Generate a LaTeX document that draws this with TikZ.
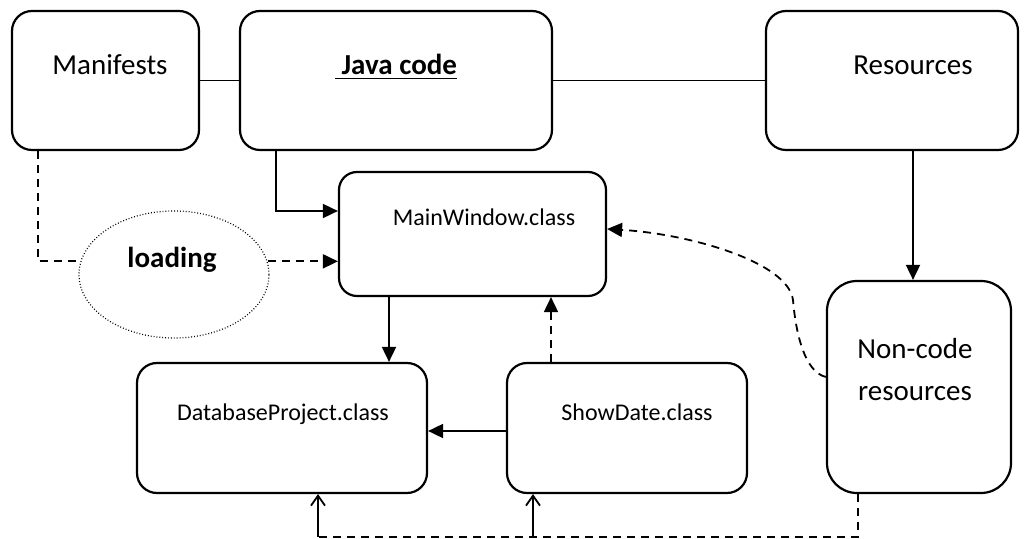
\documentclass[tikz,border=0pt]{standalone}
\usepackage{fontspec}
\setmainfont{Carlito}
\usetikzlibrary{arrows.meta,shapes.geometric}
\begin{document}
\begin{tikzpicture}[x=0.5pt,y=-0.5pt,
 box/.style={draw,line width=1.1pt,rounded corners=10pt,inner sep=0pt},
 conn/.style={line width=0.9pt},
 arr/.style={conn,-{Triangle[length=7.5pt,width=7pt]}},
 barb/.style={conn,-{Straight Barb[length=5pt,width=7pt]}},
 dsh/.style={dash pattern=on 4pt off 3pt},
 big/.style={font=\fontsize{14.5}{17}\selectfont,inner sep=0pt,anchor=base},
 small/.style={font=\fontsize{12}{14}\selectfont,inner sep=0pt,anchor=base}]
\useasboundingbox (0,0) rectangle (1029,539);
% boxes
\node[box,minimum width=93.5pt,minimum height=69.5pt] (man) at (105.5,80.5) {};
\node[box,minimum width=156pt,minimum height=69.5pt] (java) at (396,80.5) {};
\node[box,minimum width=126pt,minimum height=69.5pt] (res) at (892,80.5) {};
\node[box,rounded corners=9pt,minimum width=133.5pt,minimum height=62pt] (mw) at (472.5,234) {};
\node[box,minimum width=145pt,minimum height=65pt] (db) at (282,428) {};
\node[box,minimum width=120pt,minimum height=65pt] (sd) at (627,428) {};
\node[box,rounded corners=15pt,minimum width=92pt,minimum height=106pt] (nc) at (919,387) {};
\node[draw,ellipse,line width=0.6pt,dash pattern=on 0.45pt off 1pt,inner sep=0pt,minimum width=95pt,minimum height=63.5pt] (ld) at (174,274.5) {};
% texts
\node[big] (manT) at (110,75) {Manifests};
\node[big] (javaT) at (396,75) {\underline{\textbf{\ Java code}}};
\node[big] (resT) at (913,75) {Resources};
\node[small] (mwT) at (484,226) {MainWindow.class};
\node[big] (ldT) at (172,268) {\textbf{loading}};
\node[small] (dbT) at (283,421) {DatabaseProject.class};
\node[small] (sdT) at (637,421) {ShowDate.class};
\node[big,align=center,anchor=base,font=\fontsize{14.5}{21}\selectfont] (ncT) at (915,401) {Non-code\\resources};
% connectors
\draw[conn] (man) -- (java);
\draw[conn] (java) -- (res);
\draw[arr] (java.south -| 276,0) |- (mw.west |- 0,211);
\draw[conn,dsh] (man.south -| 38,0) |- (ld.172);
\draw[arr,dsh] (ld.8) -- (mw.west |- ld.8);
\draw[arr] (mw.south -| 389,0) -- (db.north -| 389,0);
\draw[arr,dsh] (sd.north -| 551,0) -- (mw.south -| 551,0);
\draw[arr] (sd.west |- 0,431) -- (db.east |- 0,431);
\draw[arr] (res.south -| 913,0) -- (nc.north -| 913,0);
\draw[arr,dsh] (nc.west |- 0,377) .. controls (805,372) and (796,335) .. (793,300) .. controls (788,262) and (690,234) .. (mw.east |- 0,229);
\coordinate (bl) at (318,537);
\coordinate (bm) at (533,537);
\draw[conn,dsh] (nc.south -| 858,0) |- (bl);
\draw[barb] (bl) -- (db.south -| bl);
\draw[barb] (bm) -- (sd.south -| bm);
\end{tikzpicture}
\end{document}
